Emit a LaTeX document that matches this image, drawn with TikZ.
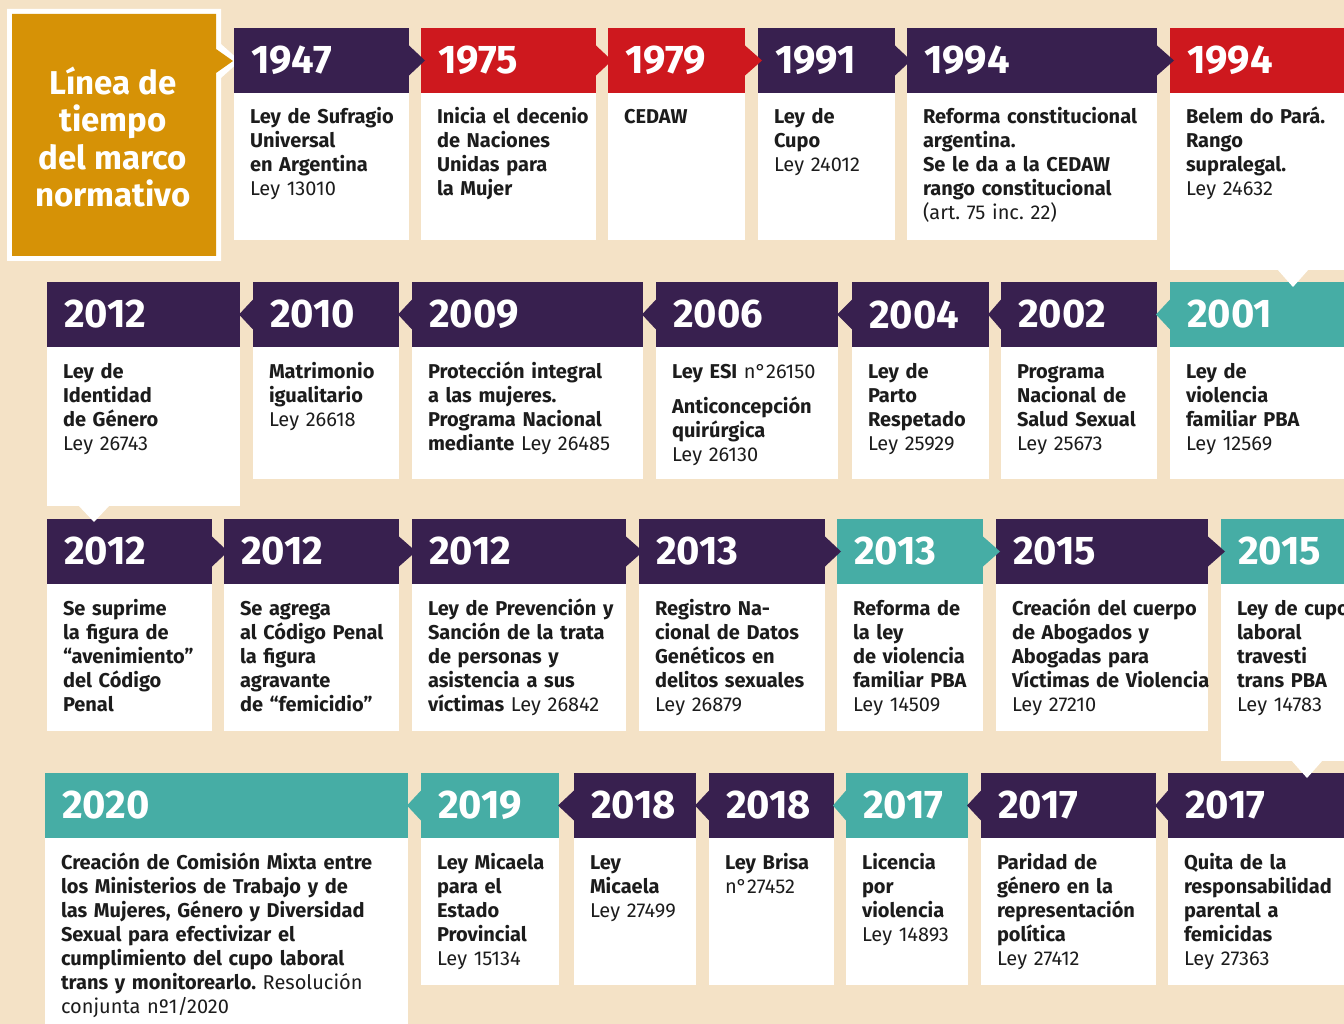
\documentclass[tikz,border=0pt]{standalone}
\usepackage{fontspec}
\setmainfont{Fira Sans}
\newfontfamily\yearfam{Fira Sans}
\usetikzlibrary{calc}
\frenchspacing
\definecolor{bg}{HTML}{F4E2C6}
\definecolor{pur}{HTML}{38204F}
\definecolor{tred}{HTML}{CE181E}
\definecolor{tteal}{HTML}{46ADA5}
\definecolor{gold}{HTML}{D69206}
\definecolor{ink}{HTML}{1C1C1C}
\tikzset{
  cardbox/.style={anchor=north west, fill=white, draw=none, inner sep=0pt, outer sep=0pt},
  hdrbox/.style={anchor=north west, draw=none, inner xsep=17pt, inner ysep=0pt, outer sep=0pt,
    minimum height=65pt, align=left, text=white, font={\yearfam\bfseries\fontsize{40}{42}\selectfont}},
  txtbox/.style={anchor=base west, inner sep=0pt, outer sep=0pt, text width=400pt, align=left,
    text=ink, font={\frenchspacing\bfseries\fontsize{20}{24}\selectfont}},
  titlebox/.style={align=center, text=white, inner sep=0pt, font={\bfseries\fontsize{33}{37.5}\selectfont}}
}
\newcommand\ev[8]{%
  \pgfmathsetmacro\evw{#3-#2}%
  \pgfmathsetmacro\evh{#5-#4}%
  \pgfmathsetmacro\evt{#3-#2-34}%
  \node[cardbox, minimum width=\evw pt, minimum height=\evh pt] (c#1) at (#2,#4) {};
  \node[hdrbox, fill=#6, text width=\evt pt] (h#1) at (#2,#4) {#7};
  \node[txtbox] (t#1) at ($(h#1.south west)+(16,31)$) {#8};
}
\newcommand\chevR[3]{\fill[#3] ($(h#1.east)+(0,-15)$) -- ($(h#2.west)+(4,0)$) -- ($(h#1.east)+(0,15)$) -- cycle;}
\newcommand\chevL[3]{\fill[#3] ($(h#1.west)+(0,-15)$) -- ($(h#2.east)+(-1,0)$) -- ($(h#1.west)+(0,15)$) -- cycle;}
\newcommand\notch[4]{\fill[white] ($(c#1.south west)+(#2-16,-1)$) -- ($(c#1.south west)+(#2,#3)$) -- ($(c#1.south west)+(#2+16,-1)$) -- cycle;}
\begin{document}
\begin{tikzpicture}[x=1pt,y=-1pt]
\useasboundingbox (0,0) rectangle (1344,1024);
\clip (0,0) rectangle (1344,1024);
\fill[bg] (0,0) rectangle (1344,1024);
% title box
\fill[white] (7,9) -- (221,9) -- (221,44) -- (240,61) -- (221,78) -- (221,261) -- (7,261) -- cycle;
\fill[gold] (12,14) -- (216,14) -- (216,49) -- (233,61) -- (216,73) -- (216,256) -- (12,256) -- cycle;
\node[titlebox] (title) at (113,137) {Línea de\\tiempo\\del marco\\normativo};
% row 1
\ev{a1}{234}{409}{28}{240}{pur}{1947}{Ley de Sufragio\\Universal\\en Argentina\\\mdseries Ley 13010}
\ev{a2}{421}{596}{28}{240}{tred}{1975}{Inicia el decenio\\de Naciones\\Unidas para\\la Mujer}
\ev{a3}{608}{745}{28}{240}{tred}{1979}{CEDAW}
\ev{a4}{758}{895}{28}{240}{pur}{1991}{Ley de\\Cupo\\\mdseries Ley 24012}
\ev{a5}{907}{1157}{28}{240}{pur}{1994}{Reforma constitucional\\argentina.\\Se le da a la CEDAW\\rango constitucional\\\mdseries (art. 75 inc. 22)}
\ev{a6}{1170}{1350}{28}{270}{tred}{1994}{Belem do Pará.\\Rango\\supralegal.\\\mdseries Ley 24632}
% row 2
\ev{b1}{47}{240}{282}{506}{pur}{2012}{Ley de\\Identidad\\de Género\\\mdseries Ley 26743}
\ev{b2}{253}{399}{282}{479}{pur}{2010}{Matrimonio\\igualitario\\\mdseries Ley 26618}
\ev{b3}{412}{643}{282}{479}{pur}{2009}{Protección integral\\a las mujeres.\\Programa Nacional\\mediante {\mdseries Ley 26485}}
\ev{b4}{656}{838}{282}{479}{pur}{2006}{Ley ESI {\mdseries n°26150}\\[11pt]Anticoncepción\\quirúrgica\\\mdseries Ley 26130}
\ev{b5}{852}{989}{282}{479}{pur}{2004}{Ley de\\Parto\\Respetado\\\mdseries Ley 25929}
\ev{b6}{1001}{1157}{282}{479}{pur}{2002}{Programa\\Nacional de\\Salud Sexual\\\mdseries Ley 25673}
\ev{b7}{1170}{1350}{282}{479}{tteal}{2001}{Ley de\\violencia\\familiar PBA\\\mdseries Ley 12569}
% row 3
\ev{c1}{47}{212}{519}{731}{pur}{2012}{Se suprime\\la figura de\\“avenimiento”\\del Código\\Penal}
\ev{c2}{224}{399}{519}{731}{pur}{2012}{Se agrega\\al Código Penal\\la figura\\agravante\\de “femicidio”}
\ev{c3}{412}{626}{519}{731}{pur}{2012}{Ley de Prevención y\\Sanción de la trata\\de personas y\\asistencia a sus\\víctimas {\mdseries Ley 26842}}
\ev{c4}{639}{825}{519}{731}{pur}{2013}{Registro Na-\\cional de Datos\\Genéticos en\\delitos sexuales\\\mdseries Ley 26879}
\ev{c5}{837}{983}{519}{731}{tteal}{2013}{Reforma de\\la ley\\de violencia\\familiar PBA\\\mdseries Ley 14509}
\ev{c6}{996}{1208}{519}{731}{pur}{2015}{Creación del cuerpo\\de Abogados y\\Abogadas para\\Víctimas de Violencia\\\mdseries Ley 27210}
\ev{c7}{1221}{1350}{519}{761}{tteal}{2015}{Ley de cupo\\laboral\\travesti\\trans PBA\\\mdseries Ley 14783}
% row 4
\ev{d1}{45}{408}{773}{1040}{tteal}{2020}{Creación de Comisión Mixta entre\\los Ministerios de Trabajo y de\\las Mujeres, Género y Diversidad\\Sexual para efectivizar el\\cumplimiento del cupo laboral\\trans y monitorearlo. {\mdseries Resolución}\\\mdseries conjunta nº1/2020}
\ev{d2}{421}{559}{773}{985}{tteal}{2019}{Ley Micaela\\para el\\Estado\\Provincial\\\mdseries Ley 15134}
\ev{d3}{574}{696}{773}{985}{pur}{2018}{Ley\\Micaela\\\mdseries Ley 27499}
\ev{d4}{709}{834}{773}{985}{pur}{2018}{Ley Brisa\\\mdseries n°27452}
\ev{d5}{846}{968}{773}{985}{tteal}{2017}{Licencia\\por\\violencia\\\mdseries Ley 14893}
\ev{d6}{981}{1156}{773}{985}{pur}{2017}{Paridad de\\género en la\\representación\\política\\\mdseries Ley 27412}
\ev{d7}{1168}{1350}{773}{985}{pur}{2017}{Quita de la\\responsabilidad\\parental a\\femicidas\\\mdseries Ley 27363}
% chevrons
\chevR{a1}{a2}{pur}\chevR{a2}{a3}{tred}\chevR{a3}{a4}{tred}\chevR{a4}{a5}{pur}\chevR{a5}{a6}{pur}
\chevL{b2}{b1}{pur}\chevL{b3}{b2}{pur}\chevL{b4}{b3}{pur}\chevL{b5}{b4}{pur}\chevL{b6}{b5}{pur}\chevL{b7}{b6}{tteal}
\chevR{c1}{c2}{pur}\chevR{c2}{c3}{pur}\chevR{c3}{c4}{pur}\chevR{c4}{c5}{pur}\chevR{c5}{c6}{tteal}\chevR{c6}{c7}{pur}
\chevL{d2}{d1}{tteal}\chevL{d3}{d2}{pur}\chevL{d4}{d3}{pur}\chevL{d5}{d4}{tteal}\chevL{d6}{d5}{pur}\chevL{d7}{d6}{pur}
% notches down to next row
\notch{a6}{123}{17}{}
\notch{b1}{47}{16}{}
\notch{c7}{86}{17}{}
\end{tikzpicture}
\end{document}
